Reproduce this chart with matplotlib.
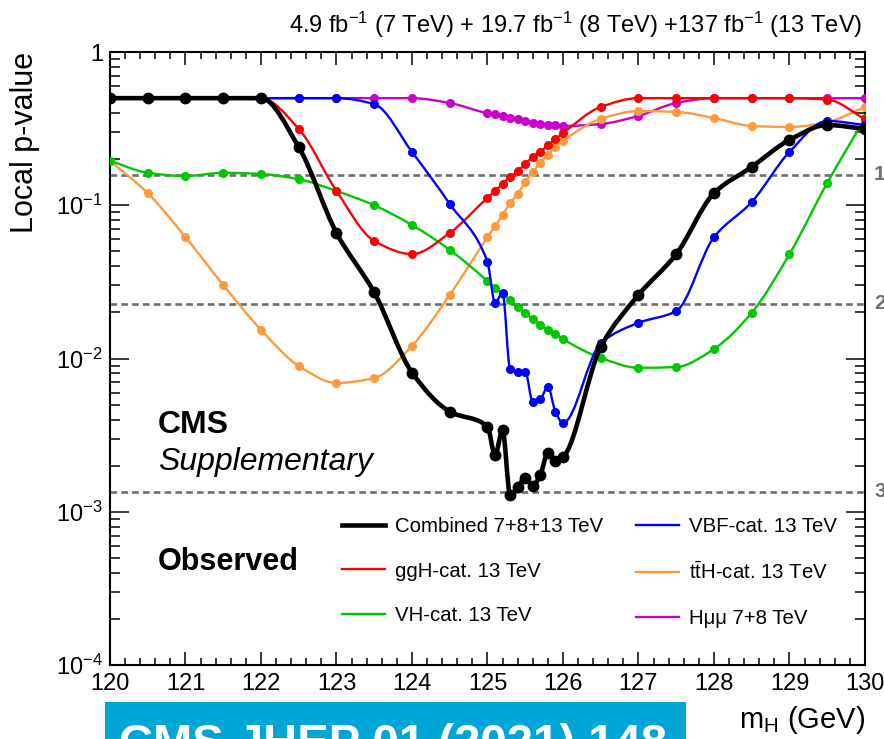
import numpy as np
import matplotlib
matplotlib.use('Agg')
import matplotlib.pyplot as plt
from matplotlib.path import Path
from matplotlib.patches import PathPatch, Rectangle
from matplotlib.lines import Line2D
from matplotlib.ticker import MultipleLocator, FixedLocator, FixedFormatter, LogLocator, NullFormatter
from matplotlib.transforms import blended_transform_factory

plt.rcParams['font.family'] = 'Liberation Sans'
plt.rcParams['mathtext.fontset'] = 'custom'
plt.rcParams['mathtext.rm'] = 'Liberation Sans'
plt.rcParams['mathtext.it'] = 'Liberation Sans:italic'
plt.rcParams['mathtext.bf'] = 'Liberation Sans:bold'
plt.rcParams['mathtext.default'] = 'regular'

# mass points of the scan (GeV)
mass = [120.0, 120.5, 121.0, 121.5, 122.0, 122.5, 123.0, 123.5, 124.0, 124.5,
        125.0, 125.1, 125.2, 125.3, 125.4, 125.5, 125.6, 125.7, 125.8, 125.9, 126.0,
        126.5, 127.0, 127.5, 128.0, 128.5, 129.0, 129.5, 130.0]

p_comb = [0.5, 0.5, 0.5, 0.5, 0.5, 0.24, 0.066, 0.027, 0.0081, 0.0045,
          0.0036, 0.00235, 0.0034, 0.00129, 0.00145, 0.00166, 0.00148, 0.00174, 0.00242, 0.00215, 0.00228,
          0.0119, 0.026, 0.048, 0.12, 0.178, 0.267, 0.334, 0.315]
p_ggh = [0.5, 0.5, 0.5, 0.5, 0.5, 0.315, 0.124, 0.0585, 0.048, 0.066,
         0.112, 0.124, 0.138, 0.153, 0.167, 0.186, 0.207, 0.223, 0.247, 0.27, 0.296,
         0.438, 0.5, 0.5, 0.5, 0.5, 0.5, 0.49, 0.365]
p_vh = [0.195, 0.163, 0.155, 0.163, 0.16, 0.148, 0.124, 0.1, 0.0744, 0.0512,
        0.032, 0.0288, 0.0264, 0.0241, 0.0217, 0.0198, 0.0181, 0.0166, 0.0154, 0.0145, 0.0134,
        0.0101, 0.0087, 0.0088, 0.01155, 0.0199, 0.048, 0.14, 0.37]
p_vbf = [0.5, 0.5, 0.5, 0.5, 0.5, 0.5, 0.5, 0.457, 0.223, 0.102,
         0.0427, 0.0231, 0.0268, 0.0085, 0.0082, 0.0082, 0.00521, 0.00545, 0.00653, 0.00449, 0.0038,
         0.0126, 0.0171, 0.0204, 0.062, 0.105, 0.223, 0.355, 0.334]
p_tth = [0.195, 0.12, 0.062, 0.0302, 0.0154, 0.00895, 0.00693, 0.00746, 0.0121, 0.026,
         0.062, 0.0733, 0.0865, 0.1035, 0.1185, 0.142, 0.165, 0.189, 0.213, 0.24, 0.263,
         0.366, 0.412, 0.407, 0.371, 0.329, 0.324, 0.349, 0.438]
p_hmm = [0.5, 0.5, 0.5, 0.5, 0.5, 0.5, 0.5, 0.5, 0.5, 0.465,
         0.40, 0.394, 0.383, 0.371, 0.366, 0.355, 0.344, 0.339, 0.334, 0.334, 0.329,
         0.339, 0.383, 0.465, 0.5, 0.5, 0.5, 0.5, 0.5]

# (label, values, colour, line width, marker size, zorder)
series = [
    ('Combined 7+8+13 TeV', p_comb, 'black', 3.3, 7.5, 8),
    ('ggH-cat. 13 TeV', p_ggh, '#ff0000', 1.7, 5.5, 6),
    ('VH-cat. 13 TeV', p_vh, '#00c800', 1.7, 5.5, 5),
    ('VBF-cat. 13 TeV', p_vbf, '#0000ff', 1.7, 5.5, 7),
    (r'$\mathrm{t\bar{t}}$H-cat. 13 TeV', p_tth, '#ff9a3c', 1.7, 5.5, 4),
    ('Hμμ 7+8 TeV', p_hmm, '#cc00cc', 1.7, 5.5, 3),
]

sigma_p = [0.1587, 0.02275, 0.00135]
sigma_labels = ['1σ', '2σ', '3σ']


def smooth_path(x, p):
    # monotone cubic (pchip-like) segments in log10(p), drawn as bezier curves
    x = np.asarray(x, float)
    y = np.log10(np.asarray(p, float))
    h = np.diff(x)
    d = np.diff(y) / h
    m = np.zeros_like(y)
    m[0], m[-1] = d[0], d[-1]
    for i in range(1, len(x) - 1):
        if d[i - 1] * d[i] > 0:
            w1 = 2 * h[i] + h[i - 1]
            w2 = h[i] + 2 * h[i - 1]
            m[i] = (w1 + w2) / (w1 / d[i - 1] + w2 / d[i])
    verts = [(x[0], y[0])]
    codes = [Path.MOVETO]
    for i in range(len(x) - 1):
        verts += [(x[i] + h[i] / 3, y[i] + m[i] * h[i] / 3),
                  (x[i + 1] - h[i] / 3, y[i + 1] - m[i + 1] * h[i] / 3),
                  (x[i + 1], y[i + 1])]
        codes += [Path.CURVE4] * 3
    verts = np.array(verts)
    verts[:, 1] = 10 ** verts[:, 1]
    return Path(verts, codes)


fig = plt.figure(figsize=(8.84, 7.39), dpi=100)
ax = fig.add_axes([0.1244, 0.1001, 0.8541, 0.8295])
ax.set_yscale('log')
ax.set_xlim(120, 130)
ax.set_ylim(1e-4, 1)

for p in sigma_p:
    ax.axhline(p, color='#6e6e6e', lw=1.9, dashes=(2.5, 1.6), zorder=1)

handles = []
for label, vals, col, lw, ms, z in series:
    ax.add_patch(PathPatch(smooth_path(mass, vals), fill=False, edgecolor=col,
                           lw=lw, joinstyle='round', capstyle='round', zorder=z))
    ax.plot(mass, vals, 'o', color=col, ms=ms, mec=col, zorder=z + 0.5)
    handles.append(Line2D([], [], color=col, lw=lw, label=label))

trans = blended_transform_factory(ax.transAxes, ax.transData)
for p, s in zip(sigma_p, sigma_labels):
    ax.text(1.012, p, s, transform=trans, ha='left', va='center', fontsize=15,
            fontweight='bold', color='#707070', clip_on=False)

# axis ticks
ax.xaxis.set_major_locator(MultipleLocator(1))
ax.xaxis.set_minor_locator(MultipleLocator(0.2))
ax.yaxis.set_major_locator(FixedLocator([1e-4, 1e-3, 1e-2, 1e-1, 1]))
ax.yaxis.set_major_formatter(FixedFormatter(['$10^{-4}$', '$10^{-3}$', '$10^{-2}$', '$10^{-1}$', '1']))
ax.yaxis.set_minor_locator(LogLocator(base=10, subs=np.arange(2, 10)))
ax.yaxis.set_minor_formatter(NullFormatter())
ax.tick_params(axis='both', which='both', direction='in', top=True, right=True, width=1.1,
               labelsize=17)
ax.tick_params(axis='x', which='major', length=9.5, pad=6)
ax.tick_params(axis='x', which='minor', length=5)
ax.tick_params(axis='y', which='major', length=13.5, pad=5)
ax.tick_params(axis='y', which='minor', length=7)
for sp in ax.spines.values():
    sp.set_linewidth(1.5)

ax.set_ylabel('Local p-value', fontsize=22, loc='top')
ax.yaxis.set_label_coords(-0.093, 1.0)
fig.text(0.9785, 0.0257, r'm$_{\mathrm{H}}$ (GeV)', ha='right', va='center', fontsize=21)

fig.text(0.975, 0.966, '4.9 fb$^{-1}$ (7 TeV) + 19.7 fb$^{-1}$ (8 TeV) +137 fb$^{-1}$ (13 TeV)',
         ha='right', va='center', fontsize=17)

fig.text(0.1787, 0.4249, 'CMS', ha='left', va='center', fontsize=23, fontweight='bold')
fig.text(0.1787, 0.3748, 'Supplementary', ha='left', va='center', fontsize=23, style='italic')
fig.text(0.1787, 0.2395, 'Observed', ha='left', va='center', fontsize=22, fontweight='bold')

ax.legend(handles=handles, ncol=2, loc='upper left', bbox_to_anchor=(342 / 884, 1 - 517 / 739),
          bbox_transform=fig.transFigure, frameon=False, fontsize=14.7, borderpad=0,
          borderaxespad=0, handlelength=2.1, handletextpad=0.5, columnspacing=1.6,
          labelspacing=1.25)

# journal reference banner at the bottom
fig.patches.append(Rectangle((0.1183, 0.0), 0.6577, 0.0505, transform=fig.transFigure,
                             facecolor='#00a6d6', edgecolor='none'))
fig.text(0.1346, -0.024, 'CMS JHEP 01 (2021) 148', ha='left', va='baseline', fontsize=34,
         fontweight='bold', color='white')

fig.savefig('out.png', dpi=100)
